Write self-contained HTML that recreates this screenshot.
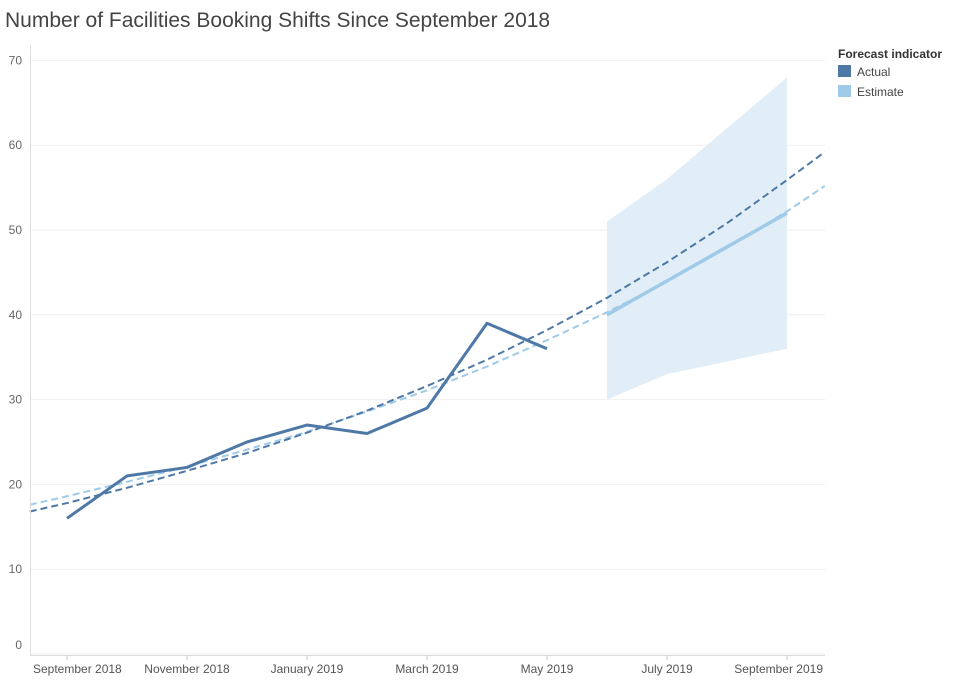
<!DOCTYPE html>
<html><head><meta charset="utf-8">
<style>
body{margin:0;background:#fff;font-family:"Liberation Sans",sans-serif;}
#wrap{position:relative;width:975px;height:683px;overflow:hidden;}
</style></head>
<body>
<div id="wrap">
<svg id="chart" width="975" height="683">
<text x="5" y="27" font-size="21" fill="#444" font-family="Liberation Sans, sans-serif">Number of Facilities Booking Shifts Since September 2018</text>
<g id="grid"></g><g id="band"></g><g id="lines"></g><g id="axes"></g>
<g>
<text x="838" y="58" font-size="12" font-weight="bold" fill="#333">Forecast indicator</text>
<rect x="838" y="65" width="13" height="12" fill="#4e79a7"></rect>
<text x="857" y="76" font-size="12" fill="#444">Actual</text>
<rect x="838" y="85" width="13" height="12" fill="#a0cbe8"></rect>
<text x="857" y="96" font-size="12" fill="#444">Estimate</text>
</g>
</svg>
</div>
<script>
const actualMonths=[0,1,2,3,4,5,6,7,8];
const actualValues=[16,21,22,25,27,26,29,39,36];
const estMonths=[9,10,11,12];
const estValues=[40,44,48,52];
const bandLow=[30,33,34.5,36];
const bandHigh=[51,56,62,68];
const trendT=[-0.62,0,1,2,3,4,5,6,7,8,9,10,11,12,12.63];
const trendActual=[16.8,17.8,19.6,21.6,23.7,26.1,28.7,31.6,34.7,38.2,42.0,46.2,50.8,55.9,59.2];
const trendEstimate=[17.6,18.6,20.3,22.1,24.1,26.2,28.6,31.1,33.9,37.0,40.3,43.9,47.9,52.2,55.2];
const yTicks=[0,10,20,30,40,50,60,70];
const xTickMonths=[0,2,4,6,8,10,12];
const xTickLabels=["September 2018","November 2018","January 2019","March 2019","May 2019","July 2019","September 2019"];

const NS="http://www.w3.org/2000/svg";
const x=t=>67+t*60;
const y=v=>654-v*8.48;
function mk(tag,attrs,parent){const e=document.createElementNS(NS,tag);for(const k in attrs)e.setAttribute(k,attrs[k]);document.getElementById(parent).appendChild(e);return e;}
yTicks.forEach(v=>{
  const g=mk('line',{x1:30,x2:825,y1:y(v),y2:y(v),stroke:'#efefef','stroke-width':1},'grid');
  
  
  const t=mk('text',{x:22,y:Math.min(y(v)+4,649),'font-size':12,fill:'#666','text-anchor':'end'},'axes');
  t.textContent=v;
  
  
});
const ax=mk('line',{x1:30.5,x2:30.5,y1:45,y2:655,stroke:'#ddd'},'axes');


const bx=mk('line',{x1:30,x2:825,y1:655.5,y2:655.5,stroke:'#ddd'},'axes');


xTickMonths.forEach((m,i)=>{
  const tk=mk('line',{x1:x(m),x2:x(m),y1:655,y2:660,stroke:'#ccc'},'axes');
  
  
  let xx=x(m),anchor='middle';
  if(i===0){xx=33;anchor='start';}
  if(i===xTickMonths.length-1){xx=823;anchor='end';}
  const t=mk('text',{x:xx,y:673,'font-size':12,fill:'#555','text-anchor':anchor},'axes');
  t.textContent=xTickLabels[i];
  
  
});
let pts=estMonths.map((m,i)=>x(m)+','+y(bandHigh[i]));
pts=pts.concat(estMonths.map((m,i)=>x(m)+','+y(bandLow[i])).reverse());
const band=mk('polygon',{points:pts.join(' '),fill:'#e2eef7'},'band');


function line(ts,vs,attrs,name){
  const p=mk('polyline',Object.assign({points:ts.map((t,i)=>x(t)+','+y(vs[i])).join(' '),fill:'none'},attrs),'lines');
  
  
}
line(trendT,trendEstimate,{stroke:'#a0cbe8','stroke-width':2,'stroke-dasharray':'7,4'},'trend-estimate');
line(trendT,trendActual,{stroke:'#4e79a7','stroke-width':2,'stroke-dasharray':'7,4'},'trend-actual');
line(actualMonths,actualValues,{stroke:'#4e79a7','stroke-width':3,'stroke-linejoin':'round'},'actual-line');
line(estMonths,estValues,{stroke:'#a0cbe8','stroke-width':3.5,'stroke-linejoin':'round'},'estimate-line');
</script>
</body></html>
